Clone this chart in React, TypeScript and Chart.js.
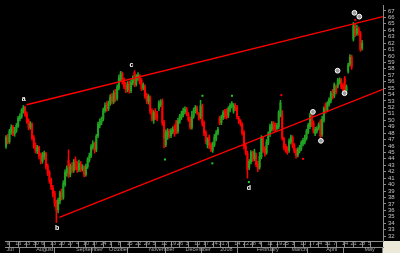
import React, { useEffect, useRef } from "react";
import { Chart, registerables } from "chart.js";
Chart.register(...registerables);

// ---- candle data (daily, slot index = trading day from Jul 9 2007) ----
const OPEN = [45.9,47.3,46.7,48.1,48.9,47.9,48.4,49.1,50.2,50.6,51.4,52.0,50.9,49.9,48.9,49.4,47.3,46.1,45.2,45.8,44.6,43.6,44.4,44.8,42.9,41.9,40.7,39.5,38.7,37.2,36.1,37.4,38.8,38.0,40.0,41.8,43.8,41.6,42.9,42.2,43.9,42.8,42.3,43.2,42.4,42.6,41.6,42.8,43.8,44.5,45.8,46.4,45.4,47.6,49.2,49.7,50.2,51.5,52.5,51.8,52.6,53.8,52.9,54.3,53.4,55.0,56.4,57.2,56.2,55.4,54.8,55.8,54.6,55.8,57.4,55.6,56.6,56.8,56.2,55.0,55.2,53.8,52.9,53.5,51.5,50.0,51.3,51.0,51.8,52.4,52.9,49.7,46.2,47.4,48.3,47.6,48.2,48.9,49.6,48.3,49.8,50.4,50.8,51.3,51.7,50.9,50.2,48.9,50.6,51.4,51.9,50.9,50.5,52.2,49.6,48.1,46.2,47.4,46.2,45.3,46.2,47.1,48.0,50.3,49.6,50.4,51.4,51.5,50.7,51.6,52.2,51.4,52.3,52.0,50.3,49.9,49.3,48.1,46.0,44.9,42.6,43.5,44.9,44.0,44.6,43.2,42.7,44.3,47.2,45.6,45.0,46.5,47.8,48.6,49.5,49.3,48.7,49.0,50.8,50.9,47.1,46.0,45.6,45.3,46.6,47.3,46.1,45.3,44.6,45.2,45.6,46.3,46.6,47.2,48.2,49.0,50.7,49.6,47.9,48.3,48.8,49.8,47.8,50.0,52.4,51.6,52.5,53.0,54.5,53.8,55.2,55.3,55.9,56.2,55.4,56.5,54.6,57.6,58.7,59.8,62.6,64.6,63.5,64.2,63.5,61.2];
const HIGH = [47.6,47.8,48.6,49.3,49.2,48.9,49.5,50.6,51.0,51.8,52.3,52.2,51.3,50.2,49.8,49.6,47.6,46.5,46.1,46.0,44.9,45.0,45.2,45.0,43.2,42.2,41.0,39.9,39.0,37.6,37.9,39.0,39.3,40.6,42.3,42.9,45.4,43.2,43.4,43.9,44.3,43.6,43.8,43.6,43.1,42.9,43.2,44.2,44.9,46.2,46.8,46.6,47.8,49.7,50.2,50.5,51.9,52.7,52.9,53.0,54.0,54.2,54.6,54.8,55.5,57.0,57.6,57.5,56.6,55.9,56.0,56.1,56.3,56.9,57.7,57.1,57.4,57.1,56.5,55.8,55.5,54.2,54.0,53.8,51.8,51.5,51.8,51.4,53.0,53.2,53.3,50.0,48.5,48.7,48.6,48.7,49.0,49.3,50.0,50.3,50.9,51.4,51.9,52.1,52.0,51.2,50.5,51.4,51.9,52.3,52.2,51.2,53.1,52.5,49.9,48.4,47.3,47.7,46.5,46.6,47.8,48.4,48.9,50.6,50.8,51.5,51.7,51.8,52.1,52.6,52.9,52.6,52.6,52.3,50.6,50.1,49.6,48.4,46.3,45.2,43.9,45.3,45.2,45.5,44.9,43.6,45.0,47.6,47.5,45.9,47.0,48.2,49.4,49.8,49.8,49.6,49.5,51.5,53.1,51.5,47.4,46.3,45.9,47.1,47.7,47.6,46.4,45.6,45.7,46.1,46.8,47.2,47.7,48.6,49.5,51.1,51.0,49.9,48.9,49.0,49.6,50.1,50.6,52.1,52.7,52.9,53.5,54.5,54.8,55.8,55.5,56.5,56.6,56.5,55.7,56.8,55.5,58.9,60.2,60.1,65.2,65.0,64.8,64.5,63.8,62.4];
const LOW = [45.6,46.3,46.4,47.8,47.6,47.5,48.1,48.9,49.9,50.3,51.1,50.6,49.5,48.5,48.6,46.9,45.6,44.9,44.8,44.0,43.2,43.3,43.9,42.4,41.4,40.2,39.2,38.1,36.6,34.1,35.6,37.0,37.6,37.7,39.7,41.3,41.1,41.2,41.8,41.9,42.3,41.9,42.0,42.0,42.1,41.2,41.3,42.5,43.5,44.2,45.5,44.9,45.1,47.3,48.8,49.3,49.9,51.2,51.4,51.5,52.3,52.5,52.6,52.9,53.1,54.7,56.0,55.6,54.9,54.3,54.4,54.2,54.3,55.5,55.2,55.3,56.2,55.6,54.6,54.7,53.4,52.6,52.5,51.0,49.9,49.5,50.1,49.9,51.5,52.1,49.2,45.7,45.9,47.0,47.2,47.3,47.9,47.5,47.9,48.0,49.5,50.1,50.5,51.0,50.7,49.8,48.6,48.6,50.3,51.1,50.9,50.0,50.2,49.1,47.6,46.4,45.7,45.6,45.1,45.0,45.9,46.8,47.7,49.3,49.3,50.1,50.3,50.2,50.4,51.3,51.9,51.1,51.5,50.2,49.5,49.1,47.7,45.5,44.6,41.0,42.3,43.2,43.6,43.7,42.8,42.0,42.4,44.0,45.0,44.4,44.7,46.2,47.5,48.3,48.3,48.2,48.4,48.7,50.5,46.9,45.4,45.0,44.7,45.0,46.3,45.7,44.9,44.1,44.3,44.9,45.3,46.0,46.3,46.9,47.9,48.7,49.0,48.0,47.6,48.0,48.5,47.3,47.5,49.7,51.1,51.3,52.2,52.7,53.3,53.5,54.1,55.0,55.6,54.9,54.6,54.1,54.3,57.3,58.4,57.9,62.3,63.0,63.2,63.2,60.7,60.9];
const CLOSE = [47.3,46.6,48.3,48.9,47.9,48.4,49.2,50.3,50.6,51.5,52.0,50.9,49.8,48.9,49.5,47.2,46.0,45.3,45.8,44.5,43.7,44.6,44.9,42.8,41.8,40.6,39.6,38.6,37.1,36.0,37.6,38.7,38.0,40.2,41.9,42.6,41.5,42.8,42.2,43.5,42.7,42.3,43.3,42.4,42.8,41.5,42.9,43.9,44.5,45.9,46.4,45.3,47.5,49.4,49.8,50.1,51.6,52.3,51.8,52.6,53.6,52.9,54.2,53.3,55.1,56.6,57.3,56.0,55.2,54.7,55.6,54.6,55.9,56.4,55.6,56.8,57.0,55.9,54.9,55.5,53.7,53.0,53.7,51.4,50.2,51.2,50.5,50.2,52.6,52.9,49.6,47.2,48.1,48.3,47.6,48.4,48.6,47.9,48.3,49.9,50.6,51.0,51.5,51.7,51.0,50.1,48.9,50.7,51.5,52.0,51.2,50.3,52.2,49.5,48.0,46.8,47.0,46.1,45.5,46.3,47.4,48.0,48.6,49.6,50.5,51.2,50.6,50.5,51.8,52.3,52.6,52.3,51.8,50.6,49.9,49.4,48.0,45.9,45.0,42.3,43.6,45.0,44.0,45.1,43.1,42.5,44.4,47.3,45.3,44.8,46.6,47.9,49.0,49.4,48.6,48.6,49.2,51.2,52.7,47.2,45.8,45.3,45.0,46.8,47.4,46.0,45.2,44.5,45.4,45.8,46.5,46.9,47.3,48.3,49.2,50.7,49.3,48.4,48.6,48.7,49.3,47.6,50.2,51.8,51.4,52.6,53.2,54.2,53.6,55.5,54.4,56.2,56.3,55.2,54.9,54.4,55.2,58.6,59.8,58.3,64.7,63.4,64.2,63.6,61.0,62.0];

// ---- axis labels ----
const WEEK_LABELS = ["9","16","23","30","6","13","20","27","4","10","17","24","1","8","15","22","29","5","12","19","26","3","10","17","24","31","7","14","22","28","4","11","19","25","3","10","17","24","31","7","14","21","28","5"];
const WEEK_SLOTS = [0,5,10,15,20,25,30,35,40,44,49,54,59,64,69,74,79,84,89,94,98,103,108,113,118,122,126,131,136,140,145,150,155,159,164,169,174,178,183,188,193,198,203,208];
const MONTH_LABELS = ["Jul","August","September","October","November","December","2008","February","March","April","May"];
const MONTH_SLOTS = [0,17,40,59,82,103,123,144,164,184,206];
const Y_TICKS = [32,33,34,35,36,37,38,39,40,41,42,43,44,45,46,47,48,49,50,51,52,53,54,55,56,57,58,59,60,61,62,63,64,65,66,67];

// ---- trend lines ----
const UPPER_X = [11.9, 217.0];
const UPPER_Y = [52.4, 66.1];
const LOWER_X = [30.7, 217.0];
const LOWER_Y = [34.9, 54.8];

// ---- annotations ----
const LETTERS = ["a", "b", "c", "d"];
const LETTER_X = [10.2, 29.5, 72.2, 139.8];
const LETTER_Y = [53.3, 33.2, 58.6, 39.4];
const CIRCLE_X = [176.7, 181.3, 190.9, 194.9, 200.6, 203.4];
const CIRCLE_Y = [51.3, 46.8, 57.7, 54.2, 66.7, 66.1];
const GDOT_X = [91.5, 113.1, 118.8, 130.1, 139.8];
const GDOT_Y = [43.9, 53.8, 43.3, 53.8, 40.4];
const RDOT_X = [158.5, 171.0, 201.1];
const RDOT_Y = [53.9, 44.0, 65.6];

const X_MIN = -0.57;
const X_MAX = 217.04;
const Y_MIN = 31.23;
const Y_MAX = 67.91;

const RED = "#ff0000";
const GREEN = "#22a322";
const GRID = "#8a8a8a";
const TXT = "#c4c4c4";
const FONT = "'Liberation Sans', Arial, sans-serif";

export default function App() {
  const ref = useRef<HTMLCanvasElement | null>(null);

  useEffect(() => {
    document.body.style.margin = "0";
    const canvas = ref.current;
    if (!canvas) return;

    const idx = OPEN.map((_, i) => i);
    const up = idx.filter((i) => CLOSE[i] >= OPEN[i]);
    const down = idx.filter((i) => CLOSE[i] < OPEN[i]);

    const bgPlugin = {
      id: "bg",
      beforeDraw(chart: any) {
        const { ctx, width, height, chartArea } = chart;
        ctx.save();
        ctx.fillStyle = "#000000";
        ctx.fillRect(0, 0, width, height);
        ctx.fillStyle = "#ece9d8";
        ctx.fillRect(chartArea.right, chartArea.bottom, width - chartArea.right, height - chartArea.bottom);
        ctx.restore();
      },
    };

    const letterPlugin = {
      id: "letters",
      afterDatasetsDraw(chart: any) {
        const { ctx, scales } = chart;
        ctx.save();
        ctx.fillStyle = "#ffffff";
        ctx.font = `bold 7px ${FONT}`;
        ctx.textAlign = "center";
        ctx.textBaseline = "middle";
        LETTERS.forEach((t, k) => {
          ctx.fillText(t, scales.x.getPixelForValue(LETTER_X[k]), scales.y.getPixelForValue(LETTER_Y[k]));
        });
        ctx.restore();
      },
    };

    const zeroPad = (s: any) => {
      s.paddingTop = 0;
      s.paddingBottom = 0;
      s.paddingLeft = 0;
      s.paddingRight = 0;
    };

    const xAxisBase = (weight: number) => ({
      type: "linear",
      position: "bottom",
      min: X_MIN,
      max: X_MAX,
      offset: false,
      weight,
      grid: { drawOnChartArea: false, drawTicks: true, tickLength: 6, color: GRID, lineWidth: 1 },
      border: { display: true, color: GRID, width: 1 },
    });

    const chart = new Chart(canvas, {
      type: "bar",
      data: {
        datasets: [
          {
            type: "line",
            data: UPPER_X.map((x, k) => ({ x, y: UPPER_Y[k] })),
            borderColor: RED,
            borderWidth: 1.4,
            pointRadius: 0,
            order: 0,
          } as any,
          {
            type: "line",
            data: LOWER_X.map((x, k) => ({ x, y: LOWER_Y[k] })),
            borderColor: RED,
            borderWidth: 1.4,
            pointRadius: 0,
            order: 0,
          } as any,
          {
            type: "scatter",
            data: CIRCLE_X.map((x, k) => ({ x, y: CIRCLE_Y[k] })),
            pointRadius: 2.4,
            pointBackgroundColor: "#9a9a9a",
            pointBorderColor: "#ffffff",
            pointBorderWidth: 1,
            order: 0,
          } as any,
          {
            type: "scatter",
            data: GDOT_X.map((x, k) => ({ x, y: GDOT_Y[k] })),
            pointStyle: "rect",
            pointRadius: 1.4,
            pointBackgroundColor: "#22cc22",
            pointBorderWidth: 0,
            order: 0,
          } as any,
          {
            type: "scatter",
            data: RDOT_X.map((x, k) => ({ x, y: RDOT_Y[k] })),
            pointStyle: "rect",
            pointRadius: 1.4,
            pointBackgroundColor: RED,
            pointBorderWidth: 0,
            order: 0,
          } as any,
          {
            type: "bar",
            data: up.map((i) => ({ x: i, y: [OPEN[i], CLOSE[i]] })),
            backgroundColor: GREEN,
            barThickness: 1.4,
            grouped: false,
            borderWidth: 0,
            order: 1,
          } as any,
          {
            type: "bar",
            data: down.map((i) => ({ x: i, y: [CLOSE[i], OPEN[i]] })),
            backgroundColor: RED,
            barThickness: 1.4,
            grouped: false,
            borderWidth: 0,
            order: 2,
          } as any,
          {
            type: "bar",
            data: up.map((i) => ({ x: i, y: [LOW[i], HIGH[i]] })),
            backgroundColor: GREEN,
            barThickness: 0.9,
            grouped: false,
            borderWidth: 0,
            order: 3,
          } as any,
          {
            type: "bar",
            data: down.map((i) => ({ x: i, y: [LOW[i], HIGH[i]] })),
            backgroundColor: RED,
            barThickness: 0.9,
            grouped: false,
            borderWidth: 0,
            order: 4,
          } as any,
        ],
      },
      options: {
        responsive: false,
        maintainAspectRatio: false,
        animation: false,
        devicePixelRatio: 1,
        layout: { padding: 0 },
        plugins: { legend: { display: false }, tooltip: { enabled: false }, title: { display: false } },
        scales: {
          x: {
            ...xAxisBase(0),
            afterBuildTicks(s: any) {
              s.ticks = WEEK_SLOTS.map((v) => ({ value: v - 0.5 }));
            },
            afterFit(s: any) {
              s.height = 6;
              zeroPad(s);
            },
            ticks: {
              autoSkip: false,
              maxRotation: 0,
              minRotation: 0,
              align: "start",
              labelOffset: 1.5,
              padding: -6,
              color: "#a8a8a8",
              font: { size: 5.5, family: FONT, lineHeight: 1 },
              callback: (_v: any, i: number) => WEEK_LABELS[i],
            },
          } as any,
          x2: {
            ...xAxisBase(1),
            afterBuildTicks(s: any) {
              s.ticks = MONTH_SLOTS.map((v) => ({ value: Math.max(X_MIN + 0.05, v - 0.5) }));
            },
            afterFit(s: any) {
              s.height = 6;
              zeroPad(s);
            },
            ticks: {
              autoSkip: false,
              maxRotation: 0,
              minRotation: 0,
              align: "start",
              labelOffset: 1.5,
              padding: -6,
              color: "#a8a8a8",
              font: { size: 5.5, family: FONT, lineHeight: 1 },
              callback: (_v: any, i: number) => MONTH_LABELS[i],
            },
          } as any,
          y: {
            type: "linear",
            position: "right",
            min: Y_MIN,
            max: Y_MAX,
            afterBuildTicks(s: any) {
              s.ticks = Y_TICKS.map((v) => ({ value: v }));
            },
            afterFit(s: any) {
              s.width = 17;
              zeroPad(s);
            },
            grid: { drawOnChartArea: false, drawTicks: true, tickLength: 3, color: GRID },
            border: { display: true, color: GRID },
            ticks: {
              autoSkip: false,
              padding: 2,
              color: TXT,
              font: { size: 6, family: FONT },
              callback: (v: any) => String(v),
            },
          } as any,
        },
      },
      plugins: [bgPlugin, letterPlugin],
    } as any);

    return () => chart.destroy();
  }, []);

  return (
    <div style={{ position: "fixed", left: 0, top: 0, width: 400, height: 253 }}>
      <canvas ref={ref} width={400} height={253} style={{ display: "block", width: 400, height: 253 }} />
    </div>
  );
}
